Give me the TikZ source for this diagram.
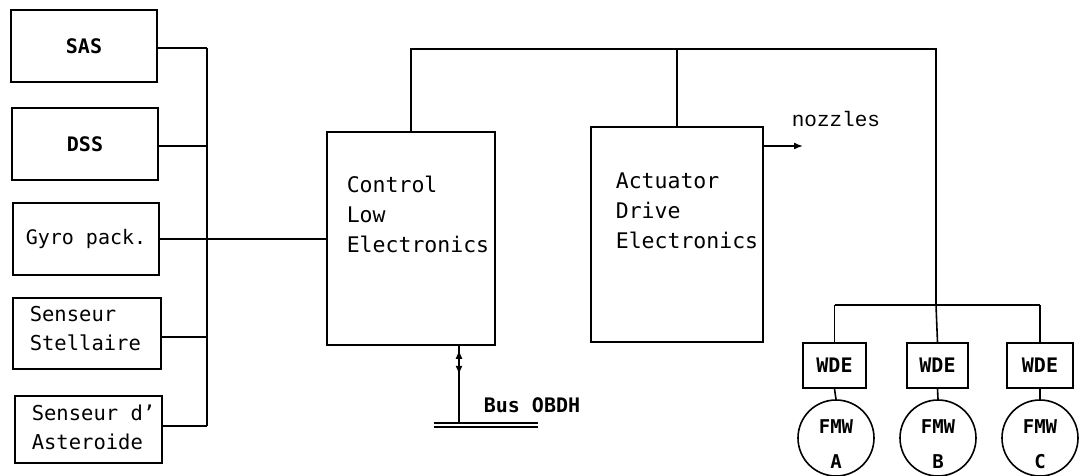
\documentclass[tikz,border=0pt]{standalone}
\usepackage{fontspec}
\setmainfont{DejaVu Sans Mono}
\newfontfamily\courfont{Liberation Mono}
\usetikzlibrary{arrows.meta}
\begin{document}
\begin{tikzpicture}[x=1pt,y=-1pt,
  line width=1.6pt,
  box/.style={draw,rectangle,inner sep=0pt},
  lbl/.style={inner sep=0pt,font=\fontsize{20.5}{29}\selectfont,align=left},
  big/.style={inner sep=0pt,font=\fontsize{21.5}{30}\selectfont,align=left},
  bold/.style={inner sep=0pt,font=\fontsize{20}{24}\selectfont\bfseries},
  wheel/.style={draw,circle,minimum size=76pt,inner sep=0pt},
  tip/.style={-{Latex[length=9pt,width=7pt]}},
  wtxt/.style={inner sep=0pt,align=center,font=\fontsize{19}{35}\selectfont\bfseries}
]
\useasboundingbox (0,0) rectangle (1079,476);

% left sensor boxes
\node[box,minimum width=146pt,minimum height=72pt,font=\fontsize{20}{24}\selectfont\bfseries] (sas) at (84,46) {SAS};
\node[box,minimum width=146pt,minimum height=72pt,font=\fontsize{20}{24}\selectfont\bfseries] (dss) at (85,144) {DSS};
\node[box,minimum width=146pt,minimum height=72pt,font=\fontsize{20}{24}\selectfont] (gyro) at (86,239) {Gyro pack.};
\node[box,minimum width=148pt,minimum height=71pt] (stel) at (87,333.5) {};
\node[lbl,anchor=base west] (steltxt) at (29,350) {Senseur\\Stellaire};
\node[box,minimum width=147pt,minimum height=67pt] (ast) at (88.5,429.5) {};
\node[lbl,anchor=base west] (asttxt) at (31,449) {Senseur d'\\Asteroide};

% bus to the left
\coordinate (busTop) at (207,48);
\coordinate (busBot) at (207,426);
\draw (busTop) -- (busBot);
\draw (sas.east |- busTop) -- (busTop);
\draw (dss.east |- 0,146) -- (207,146);
\draw (stel.east |- 0,337) -- (207,337);
\draw (ast.east |- busBot) -- (busBot);

% control and actuator
\node[box,minimum width=168pt,minimum height=213pt] (ctrl) at (411,238.5) {};
\node[big,anchor=base west] (ctrltxt) at (346,252) {Control\\Low\\Electronics};
\node[box,minimum width=172pt,minimum height=215pt] (act) at (677,234.5) {};
\node[big,anchor=base west] (acttxt) at (615,248) {Actuator\\Drive\\Electronics};

\draw (gyro.east) -- (gyro.east -| ctrl.west);

% top line
\coordinate (topR) at (936,49);
\coordinate (hub) at (936,305);
\draw (ctrl.north) |- (topR) -- (hub);
\draw (act.north) -- (act.north |- topR);

% nozzles
\coordinate (nz) at (803,146);
\draw[tip] (act.east |- nz) -- (nz);
\node[inner sep=0pt,anchor=base west,font=\fontsize{21}{24}\selectfont\courfont] (noz) at (791,127) {nozzles};

% bus OBDH
\coordinate (busO) at (459,423);
\coordinate (cb) at (ctrl.south -| busO);
\draw (cb) -- (busO);
\draw[tip] ([yshift=-15pt]cb) -- ([yshift=-4pt]cb);
\draw[tip] ([yshift=-17pt]cb) -- ([yshift=-29pt]cb);
\coordinate (bl) at (434,423);
\coordinate (br) at (538,423);
\draw (bl) -- (br);
\draw ([yshift=-4pt]bl) -- ([yshift=-4pt]br);
\node[bold,anchor=base west] (bustxt) at (483,412) {Bus OBDH};

% wheel drive electronics
\node[box,minimum width=63pt,minimum height=45pt,font=\fontsize{20}{24}\selectfont\bfseries] (wa) at (834.5,365.5) {WDE};
\node[box,minimum width=61pt,minimum height=45pt,font=\fontsize{20}{24}\selectfont\bfseries] (wb) at (937.5,365.5) {WDE};
\node[box,minimum width=66pt,minimum height=45pt,font=\fontsize{20}{24}\selectfont\bfseries] (wc) at (1040,365.5) {WDE};
\draw (wa.north |- hub) -- (wc.north |- hub);
\draw (wa.north |- hub) -- (wa.north);
\draw (hub) -- (wb.north);
\draw (wc.north |- hub) -- (wc.north);

% wheels
\node[wheel] (fa) at (836,438) {};
\node[wheel] (fb) at (938,438) {};
\node[wheel] (fc) at (1040,438) {};
\draw (wa.south) -- (fa.north);
\draw (wb.south) -- (fb.north);
\draw (wc.south) -- (fc.north);
\node[wtxt] (ta) at ([yshift=-6pt]fa.center) {FMW\\A};
\node[wtxt] (tb) at ([yshift=-6pt]fb.center) {FMW\\B};
\node[wtxt] (tc) at ([yshift=-6pt]fc.center) {FMW\\C};
\end{tikzpicture}
\end{document}
